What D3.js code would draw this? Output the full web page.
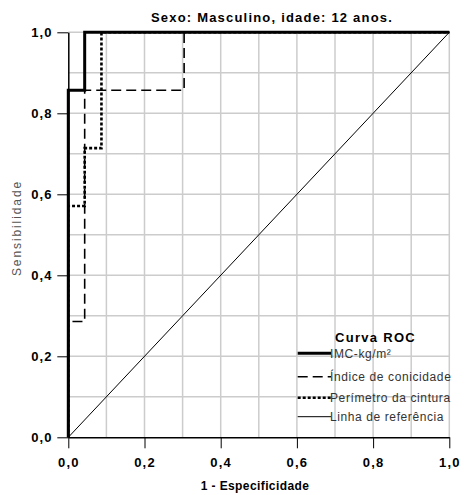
<!DOCTYPE html>
<html><head><meta charset="utf-8">
<script src="https://cdn.jsdelivr.net/npm/d3@7"></script>
<style>body{margin:0;background:#fff}svg{display:block}</style>
</head><body>
<script>
const title = "Sexo: Masculino, idade: 12 anos.";
const xLabel = "1 - Especificidade";
const yLabel = "Sensibilidade";
const ticks = [0, 0.2, 0.4, 0.6, 0.8, 1.0];
const gridVals = [0.1,0.2,0.3,0.4,0.5,0.6,0.7,0.8,0.9,1.0];
const seriesNames = ["IMC-kg/m²", "Índice de conicidade", "Perímetro da cintura", "Linha de referência"];
const imcFpr  = [0, 0, 0.043, 0.043, 1];
const imcTpr  = [0, 0.857, 0.857, 1, 1];
const icFpr   = [0, 0, 0.043, 0.043, 0.304, 0.304, 1];
const icTpr   = [0, 0.286, 0.286, 0.857, 0.857, 1, 1];
const pcFpr   = [0, 0, 0.043, 0.043, 0.087, 0.087, 1];
const pcTpr   = [0, 0.571, 0.571, 0.714, 0.714, 1, 1];
const refFpr  = [0, 1];
const refTpr  = [0, 1];

const W = 465, H = 495;
const svg = d3.select("body").append("svg").attr("width", W).attr("height", H);
const x = d3.scaleLinear().domain([0,1]).range([68.3, 449.3]);
const y = d3.scaleLinear().domain([0,1]).range([437.3, 32.3]);

// grid
const g = svg.append("g");
g.selectAll("line.gx").data(gridVals).enter().append("line").attr("class","gx")
  .attr("x1", d=>x(d)).attr("x2", d=>x(d)).attr("y1", y(0)).attr("y2", y(1))
  .attr("stroke", "#cccccc").attr("stroke-width", 1.5);
g.selectAll("line.gy").data(gridVals).enter().append("line").attr("class","gy")
  .attr("y1", d=>y(d)).attr("y2", d=>y(d)).attr("x1", x(0)).attr("x2", x(1))
  .attr("stroke", "#cccccc").attr("stroke-width", 1.5);

const font = "Liberation Sans, Arial, sans-serif";
const fmt = d => d3.format(".1f")(d).replace(".", ",");
// axes
const xAxis = svg.append("g").attr("transform", `translate(0,${y(0)})`)
  .call(d3.axisBottom(x).tickValues(ticks).tickSize(11).tickSizeOuter(0).tickFormat(fmt));
const yAxis = svg.append("g").attr("transform", `translate(${x(0)},0)`)
  .call(d3.axisLeft(y).tickValues(ticks).tickSize(11).tickSizeOuter(0).tickFormat(fmt));
[xAxis, yAxis].forEach(a => {
  a.select(".domain").attr("stroke", "#000").attr("stroke-width", 1.5);
  a.selectAll(".tick line").attr("stroke", "#000").attr("stroke-width", 1);
  a.selectAll(".tick text").attr("font-family", font).attr("font-weight", "bold")
    .attr("font-size", 13).attr("letter-spacing", 1.2).attr("fill", "#000");
});
xAxis.selectAll(".tick text").attr("dy", "0").attr("y", 30);
yAxis.selectAll(".tick text").attr("x", -15.5).attr("dy", "0.36em");

// lines
const line = d3.line().x(d=>x(d[0])).y(d=>y(d[1]));
const zip = (a,b) => a.map((v,i)=>[v,b[i]]);
const styles = [
  {d: zip(refFpr, refTpr), w: 1, dash: null},
  {d: zip(icFpr, icTpr), w: 1.6, dash: "10,5"},
  {d: zip(pcFpr, pcTpr), w: 2.6, dash: "3,2"},
  {d: zip(imcFpr, imcTpr), w: 3, dash: null}
];
styles.forEach(s => {
  svg.append("path").attr("d", line(s.d)).attr("fill", "none").attr("stroke", "#000")
    .attr("stroke-width", s.w).attr("stroke-dasharray", s.dash);
});

// title & labels
svg.append("text").attr("x", 272).attr("y", 22).attr("text-anchor", "middle")
  .attr("font-family", font).attr("font-weight", "bold").attr("font-size", 13)
  .attr("letter-spacing", 1.2).text(title);
svg.append("text").attr("x", 255).attr("y", 490).attr("text-anchor", "middle")
  .attr("font-family", font).attr("font-weight", "bold").attr("font-size", 12)
  .attr("letter-spacing", 0.4).text(xLabel);
svg.append("text").attr("transform", `translate(21,228) rotate(-90)`).attr("text-anchor", "middle")
  .attr("font-family", font).attr("font-size", 12).attr("letter-spacing", 1.9)
  .attr("fill", "#555").text(yLabel);

// legend
const lg = svg.append("g");
lg.append("text").attr("x", 335).attr("y", 342).attr("font-family", font).attr("font-weight", "bold")
  .attr("font-size", 13).attr("letter-spacing", 1.3).text("Curva ROC");
const legStyles = [
  {w: 3, dash: null}, {w: 1.6, dash: "10,5"}, {w: 2.6, dash: "3,2"}, {w: 1, dash: null}
];
const rowY = [353.3, 376.7, 397.7, 416.7];
seriesNames.forEach((n, i) => {
  lg.append("line").attr("x1", 297.7).attr("x2", 331).attr("y1", rowY[i]).attr("y2", rowY[i])
    .attr("stroke", "#000").attr("stroke-width", legStyles[i].w).attr("stroke-dasharray", legStyles[i].dash);
  lg.append("text").attr("x", 330).attr("y", rowY[i]).attr("dy", "0.35em")
    .attr("font-family", font).attr("font-size", 12).attr("letter-spacing", 0.6)
    .attr("fill", "#333").text(n);
});
</script>
</body></html>
